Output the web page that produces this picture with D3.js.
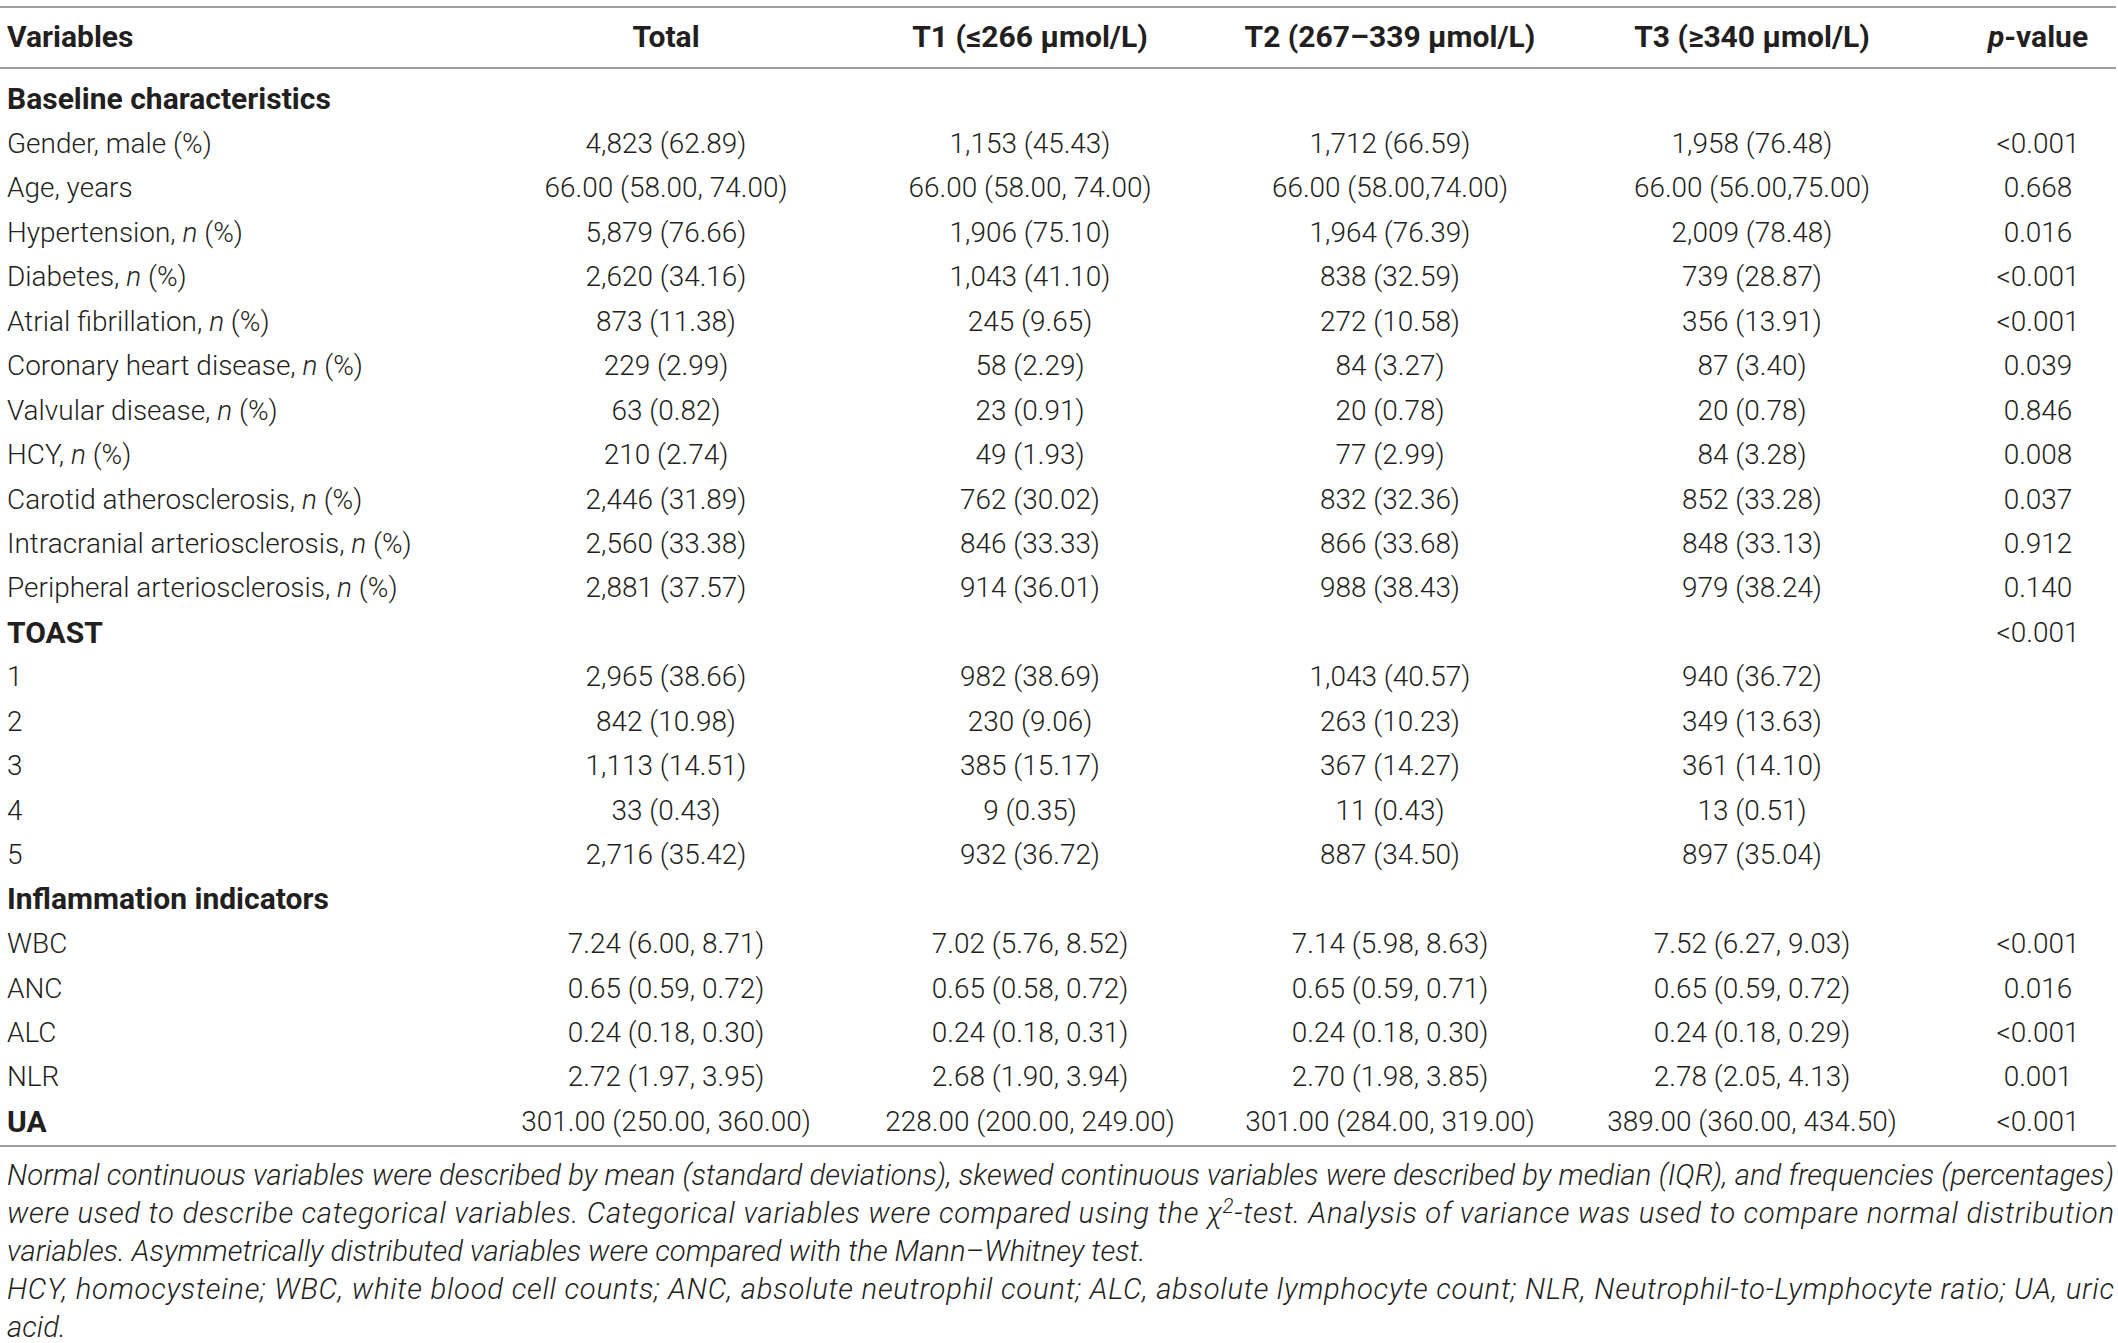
<!DOCTYPE html>
<html><head><meta charset="utf-8">
<script src="https://cdn.jsdelivr.net/npm/d3@7/dist/d3.min.js"></script>
<style>html,body{margin:0;padding:0;background:#fff;} svg{display:block;}</style>
</head><body><svg id="chart" width="2118" height="1343"></svg>
<script>
// ---------- data ----------
const columnHeaders = ["Variables", "Total", "T1 (≤266 μmol/L)", "T2 (267–339 μmol/L)", "T3 (≥340 μmol/L)", "*p*-value"];
const categories = [
  "Baseline characteristics", "Gender, male (%)", "Age, years", "Hypertension, *n* (%)", "Diabetes, *n* (%)",
  "Atrial fibrillation, *n* (%)", "Coronary heart disease, *n* (%)", "Valvular disease, *n* (%)", "HCY, *n* (%)",
  "Carotid atherosclerosis, *n* (%)", "Intracranial arteriosclerosis, *n* (%)", "Peripheral arteriosclerosis, *n* (%)",
  "TOAST", "1", "2", "3", "4", "5", "Inflammation indicators", "WBC", "ANC", "ALC", "NLR", "UA"
];
const boldRows = ["Baseline characteristics", "TOAST", "Inflammation indicators", "UA"];
const totalValues = ["", "4,823 (62.89)", "66.00 (58.00, 74.00)", "5,879 (76.66)", "2,620 (34.16)", "873 (11.38)", "229 (2.99)", "63 (0.82)", "210 (2.74)", "2,446 (31.89)", "2,560 (33.38)", "2,881 (37.57)", "", "2,965 (38.66)", "842 (10.98)", "1,113 (14.51)", "33 (0.43)", "2,716 (35.42)", "", "7.24 (6.00, 8.71)", "0.65 (0.59, 0.72)", "0.24 (0.18, 0.30)", "2.72 (1.97, 3.95)", "301.00 (250.00, 360.00)"];
const t1Values = ["", "1,153 (45.43)", "66.00 (58.00, 74.00)", "1,906 (75.10)", "1,043 (41.10)", "245 (9.65)", "58 (2.29)", "23 (0.91)", "49 (1.93)", "762 (30.02)", "846 (33.33)", "914 (36.01)", "", "982 (38.69)", "230 (9.06)", "385 (15.17)", "9 (0.35)", "932 (36.72)", "", "7.02 (5.76, 8.52)", "0.65 (0.58, 0.72)", "0.24 (0.18, 0.31)", "2.68 (1.90, 3.94)", "228.00 (200.00, 249.00)"];
const t2Values = ["", "1,712 (66.59)", "66.00 (58.00,74.00)", "1,964 (76.39)", "838 (32.59)", "272 (10.58)", "84 (3.27)", "20 (0.78)", "77 (2.99)", "832 (32.36)", "866 (33.68)", "988 (38.43)", "", "1,043 (40.57)", "263 (10.23)", "367 (14.27)", "11 (0.43)", "887 (34.50)", "", "7.14 (5.98, 8.63)", "0.65 (0.59, 0.71)", "0.24 (0.18, 0.30)", "2.70 (1.98, 3.85)", "301.00 (284.00, 319.00)"];
const t3Values = ["", "1,958 (76.48)", "66.00 (56.00,75.00)", "2,009 (78.48)", "739 (28.87)", "356 (13.91)", "87 (3.40)", "20 (0.78)", "84 (3.28)", "852 (33.28)", "848 (33.13)", "979 (38.24)", "", "940 (36.72)", "349 (13.63)", "361 (14.10)", "13 (0.51)", "897 (35.04)", "", "7.52 (6.27, 9.03)", "0.65 (0.59, 0.72)", "0.24 (0.18, 0.29)", "2.78 (2.05, 4.13)", "389.00 (360.00, 434.50)"];
const pValues = ["", "<0.001", "0.668", "0.016", "<0.001", "<0.001", "0.039", "0.846", "0.008", "0.037", "0.912", "0.140", "<0.001", "", "", "", "", "", "", "<0.001", "0.016", "<0.001", "0.001", "<0.001"];
const footnoteLines = [
  "Normal continuous variables were described by mean (standard deviations), skewed continuous variables were described by median (IQR), and frequencies (percentages)",
  "were used to describe categorical variables. Categorical variables were compared using the χ^2^-test. Analysis of variance was used to compare normal distribution",
  "variables. Asymmetrically distributed variables were compared with the Mann–Whitney test.",
  "HCY, homocysteine; WBC, white blood cell counts; ANC, absolute neutrophil count; ALC, absolute lymphocyte count; NLR, Neutrophil-to-Lymphocyte ratio; UA, uric",
  "acid."
];
const justifiedLines = [true, true, false, true, false];

// ---------- layout ----------
const W = 2118, H = 1343;
const FONT = "Roboto, 'Liberation Sans', Arial, sans-serif";
const ink = "#231f20";
const svg = d3.select("#chart");
svg.append("rect").attr("width", W).attr("height", H).attr("fill", "#fff");

function fitSize(str, weight, style, target) {
  const t = svg.append("text").attr("font-family", FONT).attr("font-weight", weight)
    .attr("font-style", style).attr("font-size", 100).text(str.replace(/[*^]/g, ""));
  const w = t.node().getComputedTextLength();
  t.remove();
  return 100 * target / w;
}
const fsBody = fitSize("Peripheral arteriosclerosis, n (%)", 300, "normal", 391);
const fsBold = fitSize("Baseline characteristics", 700, "normal", 324);
const fsNote = fitSize(footnoteLines[2], 300, "italic", 1139);

function rich(sel, str) {
  // *x* italic, ^x^ superscript
  const parts = str.split(/(\*[^*]+\*|\^[^^]+\^)/).filter(s => s.length);
  let pendingDy = 0;
  parts.forEach(p => {
    let ts;
    if (p.startsWith("*")) {
      ts = sel.append("tspan").attr("font-style", "italic").text(p.slice(1, -1));
    } else if (p.startsWith("^")) {
      ts = sel.append("tspan").attr("font-size", "70%").text(p.slice(1, -1));
      ts.attr("dy", -10 + pendingDy);
      pendingDy = 10;
      return;
    } else {
      ts = sel.append("tspan").text(p);
    }
    if (pendingDy) { ts.attr("dy", pendingDy); pendingDy = 0; }
  });
}

const colX = d3.scaleOrdinal().domain(columnHeaders).range([7, 666, 1030, 1390, 1752, 2038]);
const colAnchor = h => h === columnHeaders[0] ? "start" : "middle";
const y = d3.scalePoint().domain(d3.range(categories.length)).range([98.6, 1121]);
const capOff = fs => fs * 0.355;

const lineColor = "#9f9f9f";
[7, 68, 1146].forEach(yy => svg.append("line").attr("x1", 0).attr("x2", 2116)
  .attr("y1", yy).attr("y2", yy).attr("stroke", lineColor).attr("stroke-width", 2.2));

// headers
svg.append("g").selectAll("text").data(columnHeaders).join("text")
  .attr("x", d => colX(d)).attr("y", 36 + capOff(fsBold))
  .attr("text-anchor", colAnchor).attr("font-family", FONT).attr("font-weight", 700)
  .attr("font-size", fsBold).attr("fill", ink)
  .each(function(d) { rich(d3.select(this), d); });

// rows
const rows = categories.map((c, i) => ({
  i, cells: [c, totalValues[i], t1Values[i], t2Values[i], t3Values[i], pValues[i]]
}));
const rowG = svg.append("g").selectAll("g").data(rows).join("g");
rowG.each(function(r) {
  const g = d3.select(this);
  r.cells.forEach((cell, k) => {
    if (!cell) return;
    const bold = k === 0 && boldRows.includes(cell);
    const fs = bold ? fsBold : fsBody;
    const t = g.append("text")
      .attr("x", colX(columnHeaders[k])).attr("y", y(r.i) + capOff(fs))
      .attr("text-anchor", colAnchor(columnHeaders[k]))
      .attr("font-family", FONT).attr("font-weight", bold ? 700 : 300)
      .attr("font-size", fs).attr("fill", ink);
    rich(t, cell);
  });
});

// footnote
const yNote = d3.scalePoint().domain(d3.range(footnoteLines.length)).range([1175, 1327]);
svg.append("g").selectAll("text").data(footnoteLines).join("text")
  .attr("x", 7).attr("y", (d, i) => yNote(i) + capOff(fsNote))
  .attr("font-family", FONT).attr("font-weight", 300).attr("font-style", "italic")
  .attr("font-size", fsNote).attr("fill", ink)
  .each(function(d, i) {
    const t = d3.select(this);
    rich(t, d);
    if (justifiedLines[i]) t.attr("textLength", 2107).attr("lengthAdjust", "spacing");
  });
</script></body></html>
